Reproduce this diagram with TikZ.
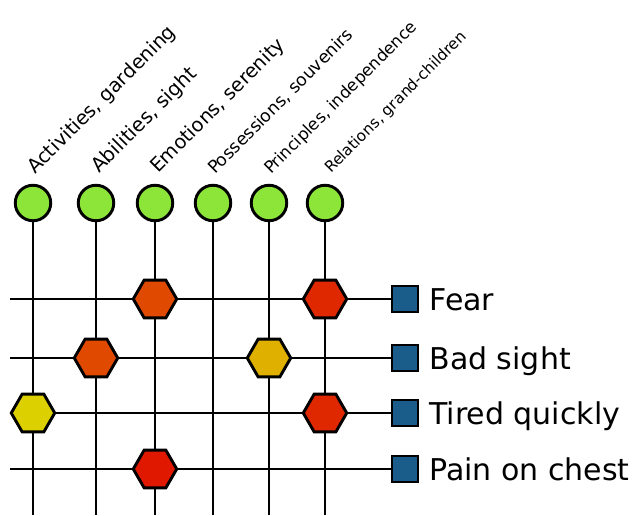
\documentclass[tikz,border=0pt]{standalone}
\usepackage{fontspec}
\setmainfont{DejaVu Sans}
\usepackage{tikz}
\usetikzlibrary{shapes.geometric,positioning,calc}

\definecolor{leafgreen}{HTML}{8EE53A}
\definecolor{boxblue}{HTML}{1B5D8A}
\definecolor{hexorange}{HTML}{E04A00}
\definecolor{hexred}{HTML}{E02800}
\definecolor{hexdeepred}{HTML}{E01800}
\definecolor{hexgold}{HTML}{E0B000}
\definecolor{hexyellow}{HTML}{DDD000}

\begin{document}
\begin{tikzpicture}[
    x=1pt, y=1pt,
    line width=2.9pt,
    topic/.style={circle, draw, fill=leafgreen, minimum size=35.5pt, inner sep=0pt},
    problem/.style={rectangle, draw, fill=boxblue, minimum size=26pt, inner sep=0pt},
    link/.style={regular polygon, regular polygon sides=6, draw, minimum size=43.5pt, inner sep=0pt},
    tlabel/.style={rotate=45, anchor=base west, inner sep=0pt},
    plabel/.style={anchor=base west, inner sep=0pt, font=\fontsize{30}{30}\selectfont}
]
\useasboundingbox (0,0) rectangle (634,515);

% Topics
\node[topic] (act) at (33,312) {};
\node[topic] (abil) at (96,312) {};
\node[topic] (emo) at (155,312) {};
\node[topic] (poss) at (213,312) {};
\node[topic] (princ) at (269,312) {};
\node[topic] (rel) at (325,312) {};

% Topic labels
\node[tlabel, font=\fontsize{19.5}{19.5}\selectfont] (actlbl) at (34,339) {Activities, gardening};
\node[tlabel, font=\fontsize{19.8}{19.8}\selectfont] (abillbl) at (98,340) {Abilities, sight};
\node[tlabel, font=\fontsize{19.4}{19.4}\selectfont] (emolbl) at (157,340) {Emotions, serenity};
\node[tlabel, font=\fontsize{17.3}{17.3}\selectfont] (posslbl) at (214,339) {Possessions, souvenirs};
\node[tlabel, font=\fontsize{16.6}{16.6}\selectfont] (princlbl) at (270,339) {Principles, independence};
\node[tlabel, font=\fontsize{15.4}{15.4}\selectfont] (rellbl) at (330,340) {Relations, grand-children};

% Problems
\node[problem] (fear) at (405,216) {};
\node[problem] (sight) at (405,157) {};
\node[problem] (tired) at (405,102) {};
\node[problem] (chest) at (405,46) {};

\node[plabel] (fearlbl) at (428,205) {Fear};
\node[plabel] (sightlbl) at (428,146) {Bad sight};
\node[plabel] (tiredlbl) at (428,91) {Tired quickly};
\node[plabel] (chestlbl) at (428,35) {Pain on chest};

% Free ends
\coordinate (fearend) at (10,216);
\coordinate (sightend) at (10,157);
\coordinate (tiredend) at (10,102);
\coordinate (chestend) at (10,46);

\coordinate (actend) at (33,0);
\coordinate (abilend) at (96,0);
\coordinate (emoend) at (155,0);
\coordinate (possend) at (213,0);
\coordinate (princend) at (269,0);
\coordinate (relend) at (325,0);

% Grid lines
\draw (act) -- (actend);
\draw (abil) -- (abilend);
\draw (emo) -- (emoend);
\draw (poss) -- (possend);
\draw (princ) -- (princend);
\draw (rel) -- (relend);

\draw (fearend) -- (fear);
\draw (sightend) -- (sight);
\draw (tiredend) -- (tired);
\draw (chestend) -- (chest);

% Links
\node[link, fill=hexorange] (emofear) at (emo |- fear) {};
\node[link, fill=hexred] (relfear) at (rel |- fear) {};
\node[link, fill=hexorange] (abilsight) at (abil |- sight) {};
\node[link, fill=hexgold] (princsight) at (princ |- sight) {};
\node[link, fill=hexyellow] (acttired) at (act |- tired) {};
\node[link, fill=hexred] (reltired) at (rel |- tired) {};
\node[link, fill=hexdeepred] (emochest) at (emo |- chest) {};

\end{tikzpicture}
\end{document}
